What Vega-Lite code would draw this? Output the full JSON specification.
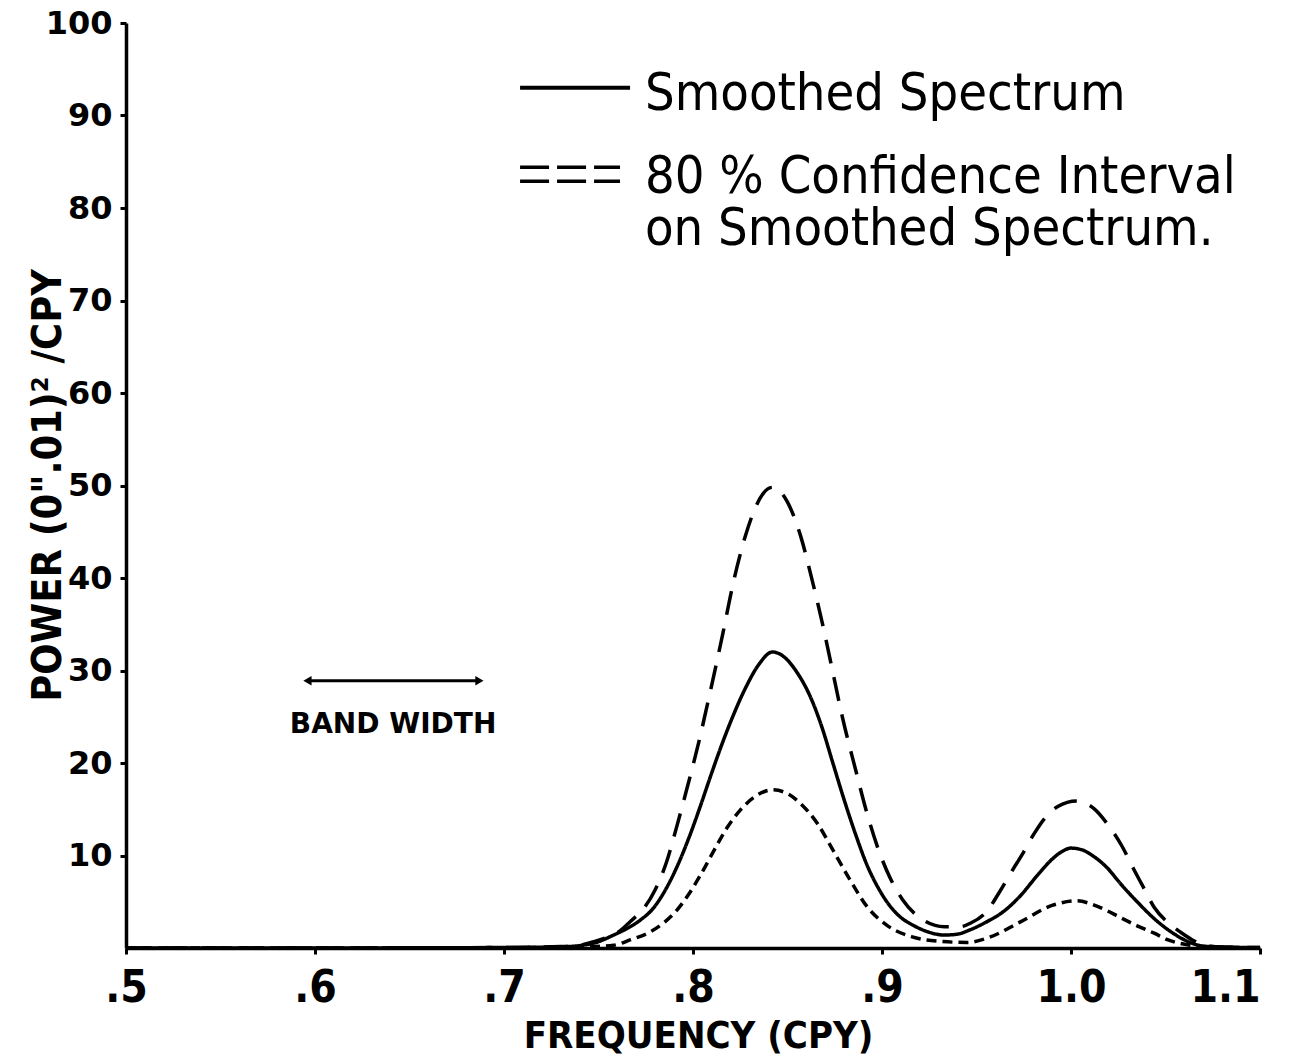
{
  "$schema": "https://vega.github.io/schema/vega-lite/v6.json",
  "width": 1134,
  "height": 925,
  "autosize": {"type": "none"},
  "padding": {"left": 126, "top": 23, "right": 30, "bottom": 114},
  "background": "white",
  "config": {
    "view": {"stroke": null},
    "axis": {"grid": false, "domainColor": "black", "domainWidth": 3.5, "tickColor": "black", "tickWidth": 3, "tickSize": 6, "labelColor": "black", "titleColor": "black"}
  },
  "datasets": {
    "curves": [
      {"frequency": 0.5, "power": 0, "series": "Smoothed Spectrum"},
      {"frequency": 0.55, "power": 0, "series": "Smoothed Spectrum"},
      {"frequency": 0.6, "power": 0, "series": "Smoothed Spectrum"},
      {"frequency": 0.65, "power": 0.02, "series": "Smoothed Spectrum"},
      {"frequency": 0.7, "power": 0.05, "series": "Smoothed Spectrum"},
      {"frequency": 0.73, "power": 0.12, "series": "Smoothed Spectrum"},
      {"frequency": 0.747, "power": 0.5, "series": "Smoothed Spectrum"},
      {"frequency": 0.758, "power": 1.4, "series": "Smoothed Spectrum"},
      {"frequency": 0.765, "power": 2.1, "series": "Smoothed Spectrum"},
      {"frequency": 0.772, "power": 3.0, "series": "Smoothed Spectrum"},
      {"frequency": 0.779, "power": 4.3, "series": "Smoothed Spectrum"},
      {"frequency": 0.786, "power": 6.5, "series": "Smoothed Spectrum"},
      {"frequency": 0.792, "power": 9.0, "series": "Smoothed Spectrum"},
      {"frequency": 0.798, "power": 12.0, "series": "Smoothed Spectrum"},
      {"frequency": 0.804, "power": 15.4, "series": "Smoothed Spectrum"},
      {"frequency": 0.809, "power": 18.4, "series": "Smoothed Spectrum"},
      {"frequency": 0.814, "power": 21.3, "series": "Smoothed Spectrum"},
      {"frequency": 0.82, "power": 24.5, "series": "Smoothed Spectrum"},
      {"frequency": 0.828, "power": 28.2, "series": "Smoothed Spectrum"},
      {"frequency": 0.835, "power": 30.7, "series": "Smoothed Spectrum"},
      {"frequency": 0.842, "power": 32.0, "series": "Smoothed Spectrum"},
      {"frequency": 0.848, "power": 31.5, "series": "Smoothed Spectrum"},
      {"frequency": 0.855, "power": 29.8, "series": "Smoothed Spectrum"},
      {"frequency": 0.862, "power": 27.2, "series": "Smoothed Spectrum"},
      {"frequency": 0.868, "power": 24.0, "series": "Smoothed Spectrum"},
      {"frequency": 0.874, "power": 20.0, "series": "Smoothed Spectrum"},
      {"frequency": 0.88, "power": 16.0, "series": "Smoothed Spectrum"},
      {"frequency": 0.886, "power": 12.3, "series": "Smoothed Spectrum"},
      {"frequency": 0.892, "power": 9.0, "series": "Smoothed Spectrum"},
      {"frequency": 0.898, "power": 6.5, "series": "Smoothed Spectrum"},
      {"frequency": 0.904, "power": 4.6, "series": "Smoothed Spectrum"},
      {"frequency": 0.91, "power": 3.3, "series": "Smoothed Spectrum"},
      {"frequency": 0.917, "power": 2.4, "series": "Smoothed Spectrum"},
      {"frequency": 0.925, "power": 1.7, "series": "Smoothed Spectrum"},
      {"frequency": 0.933, "power": 1.4, "series": "Smoothed Spectrum"},
      {"frequency": 0.94, "power": 1.5, "series": "Smoothed Spectrum"},
      {"frequency": 0.947, "power": 2.0, "series": "Smoothed Spectrum"},
      {"frequency": 0.956, "power": 2.9, "series": "Smoothed Spectrum"},
      {"frequency": 0.964, "power": 3.9, "series": "Smoothed Spectrum"},
      {"frequency": 0.973, "power": 5.6, "series": "Smoothed Spectrum"},
      {"frequency": 0.982, "power": 7.8, "series": "Smoothed Spectrum"},
      {"frequency": 0.99, "power": 9.6, "series": "Smoothed Spectrum"},
      {"frequency": 0.995, "power": 10.4, "series": "Smoothed Spectrum"},
      {"frequency": 1.0, "power": 10.8, "series": "Smoothed Spectrum"},
      {"frequency": 1.006, "power": 10.6, "series": "Smoothed Spectrum"},
      {"frequency": 1.012, "power": 9.9, "series": "Smoothed Spectrum"},
      {"frequency": 1.019, "power": 8.7, "series": "Smoothed Spectrum"},
      {"frequency": 1.026, "power": 7.0, "series": "Smoothed Spectrum"},
      {"frequency": 1.035, "power": 5.0, "series": "Smoothed Spectrum"},
      {"frequency": 1.045, "power": 3.0, "series": "Smoothed Spectrum"},
      {"frequency": 1.054, "power": 1.6, "series": "Smoothed Spectrum"},
      {"frequency": 1.063, "power": 0.6, "series": "Smoothed Spectrum"},
      {"frequency": 1.07, "power": 0.2, "series": "Smoothed Spectrum"},
      {"frequency": 1.08, "power": 0.1, "series": "Smoothed Spectrum"},
      {"frequency": 1.1, "power": 0.05, "series": "Smoothed Spectrum"},

      {"frequency": 0.5, "power": 0, "series": "Upper 80% limit"},
      {"frequency": 0.6, "power": 0, "series": "Upper 80% limit"},
      {"frequency": 0.65, "power": 0.02, "series": "Upper 80% limit"},
      {"frequency": 0.7, "power": 0.05, "series": "Upper 80% limit"},
      {"frequency": 0.73, "power": 0.15, "series": "Upper 80% limit"},
      {"frequency": 0.74, "power": 0.3, "series": "Upper 80% limit"},
      {"frequency": 0.748, "power": 0.7, "series": "Upper 80% limit"},
      {"frequency": 0.755, "power": 1.2, "series": "Upper 80% limit"},
      {"frequency": 0.761, "power": 1.8, "series": "Upper 80% limit"},
      {"frequency": 0.767, "power": 2.9, "series": "Upper 80% limit"},
      {"frequency": 0.774, "power": 4.3, "series": "Upper 80% limit"},
      {"frequency": 0.78, "power": 6.3, "series": "Upper 80% limit"},
      {"frequency": 0.786, "power": 9.3, "series": "Upper 80% limit"},
      {"frequency": 0.7915, "power": 13.2, "series": "Upper 80% limit"},
      {"frequency": 0.797, "power": 17.4, "series": "Upper 80% limit"},
      {"frequency": 0.803, "power": 22.2, "series": "Upper 80% limit"},
      {"frequency": 0.809, "power": 27.6, "series": "Upper 80% limit"},
      {"frequency": 0.816, "power": 34.2, "series": "Upper 80% limit"},
      {"frequency": 0.821, "power": 39.2, "series": "Upper 80% limit"},
      {"frequency": 0.8275, "power": 44.4, "series": "Upper 80% limit"},
      {"frequency": 0.833, "power": 47.6, "series": "Upper 80% limit"},
      {"frequency": 0.837, "power": 49.1, "series": "Upper 80% limit"},
      {"frequency": 0.842, "power": 49.8, "series": "Upper 80% limit"},
      {"frequency": 0.846, "power": 49.4, "series": "Upper 80% limit"},
      {"frequency": 0.85, "power": 48.2, "series": "Upper 80% limit"},
      {"frequency": 0.8535, "power": 46.6, "series": "Upper 80% limit"},
      {"frequency": 0.857, "power": 44.5, "series": "Upper 80% limit"},
      {"frequency": 0.863, "power": 39.8, "series": "Upper 80% limit"},
      {"frequency": 0.869, "power": 34.6, "series": "Upper 80% limit"},
      {"frequency": 0.874, "power": 29.8, "series": "Upper 80% limit"},
      {"frequency": 0.879, "power": 25.0, "series": "Upper 80% limit"},
      {"frequency": 0.886, "power": 19.3, "series": "Upper 80% limit"},
      {"frequency": 0.892, "power": 14.6, "series": "Upper 80% limit"},
      {"frequency": 0.898, "power": 10.7, "series": "Upper 80% limit"},
      {"frequency": 0.904, "power": 7.7, "series": "Upper 80% limit"},
      {"frequency": 0.911, "power": 5.2, "series": "Upper 80% limit"},
      {"frequency": 0.922, "power": 3.0, "series": "Upper 80% limit"},
      {"frequency": 0.933, "power": 2.3, "series": "Upper 80% limit"},
      {"frequency": 0.941, "power": 2.3, "series": "Upper 80% limit"},
      {"frequency": 0.947, "power": 2.7, "series": "Upper 80% limit"},
      {"frequency": 0.956, "power": 4.1, "series": "Upper 80% limit"},
      {"frequency": 0.962, "power": 6.0, "series": "Upper 80% limit"},
      {"frequency": 0.969, "power": 8.4, "series": "Upper 80% limit"},
      {"frequency": 0.975, "power": 10.4, "series": "Upper 80% limit"},
      {"frequency": 0.98, "power": 12.2, "series": "Upper 80% limit"},
      {"frequency": 0.986, "power": 14.0, "series": "Upper 80% limit"},
      {"frequency": 0.993, "power": 15.3, "series": "Upper 80% limit"},
      {"frequency": 1.003, "power": 15.9, "series": "Upper 80% limit"},
      {"frequency": 1.012, "power": 15.1, "series": "Upper 80% limit"},
      {"frequency": 1.02, "power": 13.2, "series": "Upper 80% limit"},
      {"frequency": 1.027, "power": 11.0, "series": "Upper 80% limit"},
      {"frequency": 1.033, "power": 8.6, "series": "Upper 80% limit"},
      {"frequency": 1.039, "power": 6.3, "series": "Upper 80% limit"},
      {"frequency": 1.044, "power": 4.4, "series": "Upper 80% limit"},
      {"frequency": 1.051, "power": 2.8, "series": "Upper 80% limit"},
      {"frequency": 1.058, "power": 1.7, "series": "Upper 80% limit"},
      {"frequency": 1.064, "power": 0.9, "series": "Upper 80% limit"},
      {"frequency": 1.07, "power": 0.35, "series": "Upper 80% limit"},
      {"frequency": 1.08, "power": 0.1, "series": "Upper 80% limit"},
      {"frequency": 1.1, "power": 0.05, "series": "Upper 80% limit"},

      {"frequency": 0.5, "power": 0, "series": "Lower 80% limit"},
      {"frequency": 0.6, "power": 0, "series": "Lower 80% limit"},
      {"frequency": 0.7, "power": 0.03, "series": "Lower 80% limit"},
      {"frequency": 0.74, "power": 0.1, "series": "Lower 80% limit"},
      {"frequency": 0.758, "power": 0.3, "series": "Lower 80% limit"},
      {"frequency": 0.767, "power": 0.9, "series": "Lower 80% limit"},
      {"frequency": 0.777, "power": 1.7, "series": "Lower 80% limit"},
      {"frequency": 0.785, "power": 2.8, "series": "Lower 80% limit"},
      {"frequency": 0.7915, "power": 4.1, "series": "Lower 80% limit"},
      {"frequency": 0.798, "power": 5.9, "series": "Lower 80% limit"},
      {"frequency": 0.804, "power": 7.9, "series": "Lower 80% limit"},
      {"frequency": 0.811, "power": 10.5, "series": "Lower 80% limit"},
      {"frequency": 0.818, "power": 13.0, "series": "Lower 80% limit"},
      {"frequency": 0.825, "power": 14.9, "series": "Lower 80% limit"},
      {"frequency": 0.833, "power": 16.4, "series": "Lower 80% limit"},
      {"frequency": 0.842, "power": 17.1, "series": "Lower 80% limit"},
      {"frequency": 0.85, "power": 16.7, "series": "Lower 80% limit"},
      {"frequency": 0.857, "power": 15.6, "series": "Lower 80% limit"},
      {"frequency": 0.866, "power": 13.4, "series": "Lower 80% limit"},
      {"frequency": 0.874, "power": 10.6, "series": "Lower 80% limit"},
      {"frequency": 0.883, "power": 7.4, "series": "Lower 80% limit"},
      {"frequency": 0.892, "power": 4.5, "series": "Lower 80% limit"},
      {"frequency": 0.903, "power": 2.4, "series": "Lower 80% limit"},
      {"frequency": 0.916, "power": 1.2, "series": "Lower 80% limit"},
      {"frequency": 0.932, "power": 0.7, "series": "Lower 80% limit"},
      {"frequency": 0.945, "power": 0.6, "series": "Lower 80% limit"},
      {"frequency": 0.956, "power": 1.1, "series": "Lower 80% limit"},
      {"frequency": 0.973, "power": 2.8, "series": "Lower 80% limit"},
      {"frequency": 0.99, "power": 4.6, "series": "Lower 80% limit"},
      {"frequency": 1.003, "power": 5.1, "series": "Lower 80% limit"},
      {"frequency": 1.014, "power": 4.5, "series": "Lower 80% limit"},
      {"frequency": 1.027, "power": 3.2, "series": "Lower 80% limit"},
      {"frequency": 1.035, "power": 2.4, "series": "Lower 80% limit"},
      {"frequency": 1.044, "power": 1.6, "series": "Lower 80% limit"},
      {"frequency": 1.051, "power": 0.9, "series": "Lower 80% limit"},
      {"frequency": 1.063, "power": 0.3, "series": "Lower 80% limit"},
      {"frequency": 1.07, "power": 0.15, "series": "Lower 80% limit"},
      {"frequency": 1.08, "power": 0.05, "series": "Lower 80% limit"},
      {"frequency": 1.1, "power": 0.03, "series": "Lower 80% limit"}
    ],
    "keySolid": [
      {"frequency": 0.7085, "frequency_end": 0.7667, "power": 93.0}
    ],
    "keyDashed": [
      {"frequency": 0.7085, "frequency_end": 0.7614, "power": 84.4},
      {"frequency": 0.7085, "frequency_end": 0.7614, "power": 82.9}
    ],
    "bandArrow": [
      {"frequency": 0.596, "frequency_end": 0.687, "power": 28.9}
    ],
    "arrowHeads": [
      {"frequency": 0.596, "power": 28.9, "end": "left"},
      {"frequency": 0.687, "power": 28.9, "end": "right"}
    ],
    "keyText": [
      {"frequency": 0.7746, "power": 90.6, "label": "Smoothed Spectrum"},
      {"frequency": 0.7746, "power": 81.6, "label": "80 % Confidence Interval\non Smoothed Spectrum."}
    ],
    "bandText": [
      {"frequency": 0.6413, "power": 23.2, "label": "BAND WIDTH"}
    ]
  },
  "encoding": {
    "x": {
      "field": "frequency",
      "type": "quantitative",
      "scale": {"domain": [0.5, 1.1], "nice": false, "zero": false},
      "axis": {
        "values": [0.5, 0.6, 0.7, 0.8, 0.9, 1.0, 1.1],
        "labelExpr": "datum.value < 1 ? replace(format(datum.value, '.1f'), '0.', '.') : format(datum.value, '.1f')",
        "labelFont": "DejaVu Sans Condensed, DejaVu Sans",
        "labelFontWeight": "bold",
        "labelFontSize": 44,
        "labelPadding": 12,
        "labelBaseline": "top",
        "labelFlush": false,
        "labelAlign": {"condition": {"test": "datum.value > 1.05", "value": "right"}, "value": "center"},
        "title": "FREQUENCY (CPY)",
        "titleFont": "DejaVu Sans Condensed, DejaVu Sans",
        "titleFontWeight": "bold",
        "titleFontSize": 38,
        "titleX": 572,
        "titleY": 99,
        "titleBaseline": "alphabetic"
      }
    },
    "y": {
      "field": "power",
      "type": "quantitative",
      "scale": {"domain": [0, 100], "nice": false, "zero": true},
      "axis": {
        "values": [10, 20, 30, 40, 50, 60, 70, 80, 90, 100],
        "labelFont": "DejaVu Sans",
        "labelFontWeight": "bold",
        "labelFontSize": 32,
        "labelPadding": 8,
        "labelBaseline": "middle",
        "title": "POWER (0\".01)² /CPY",
        "titleFont": "DejaVu Sans Condensed, DejaVu Sans",
        "titleFontWeight": "bold",
        "titleFontSize": 41,
        "titleAngle": -90,
        "titleX": -66,
        "titleY": 462,
        "titleAlign": "center",
        "titleBaseline": "alphabetic"
      }
    }
  },
  "layer": [
    {
      "data": {"name": "curves"},
      "mark": {"type": "line", "color": "black", "strokeWidth": 3.5, "interpolate": "monotone"},
      "encoding": {
        "detail": {"field": "series"},
        "strokeDash": {
          "field": "series",
          "type": "nominal",
          "scale": {"domain": ["Smoothed Spectrum", "Upper 80% limit", "Lower 80% limit"], "range": [[1, 0], [24, 14], [10, 6]]},
          "legend": null
        }
      }
    },
    {
      "data": {"name": "keySolid"},
      "mark": {"type": "rule", "color": "black", "strokeWidth": 4},
      "encoding": {"x2": {"field": "frequency_end"}}
    },
    {
      "data": {"name": "keyDashed"},
      "mark": {"type": "rule", "color": "black", "strokeWidth": 3.5, "strokeDash": [29, 8]},
      "encoding": {"x2": {"field": "frequency_end"}}
    },
    {
      "data": {"name": "bandArrow"},
      "mark": {"type": "rule", "color": "black", "strokeWidth": 3},
      "encoding": {"x2": {"field": "frequency_end"}}
    },
    {
      "data": {"name": "arrowHeads"},
      "mark": {"type": "point", "filled": true, "color": "black", "size": 90, "opacity": 1},
      "encoding": {
        "shape": {"field": "end", "type": "nominal", "scale": {"domain": ["left", "right"], "range": ["triangle-left", "triangle-right"]}, "legend": null}
      }
    },
    {
      "data": {"name": "keyText"},
      "mark": {"type": "text", "align": "left", "baseline": "alphabetic", "lineBreak": "\n", "lineHeight": 52, "font": "DejaVu Sans Condensed, DejaVu Sans", "fontSize": 52, "color": "black"},
      "encoding": {"text": {"field": "label"}}
    },
    {
      "data": {"name": "bandText"},
      "mark": {"type": "text", "align": "center", "baseline": "alphabetic", "font": "DejaVu Sans", "fontWeight": "bold", "fontSize": 28, "color": "black"},
      "encoding": {"text": {"field": "label"}}
    }
  ]
}
